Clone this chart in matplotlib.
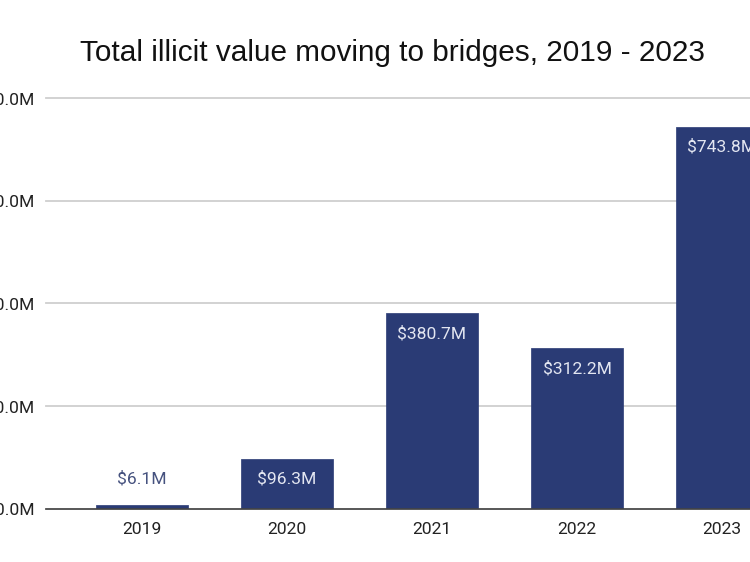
import matplotlib
matplotlib.use('Agg')
import matplotlib.pyplot as plt

years = ['2019', '2020', '2021', '2022', '2023']
values = [6.1, 96.3, 380.7, 312.2, 743.8]
y_ticks = [0, 200, 400, 600, 800]

plt.rcParams['font.family'] = ['Roboto', 'DejaVu Sans']

navy = '#2a3b75'

fig = plt.figure(figsize=(7.5, 5.62), dpi=100)
ax = fig.add_axes([46 / 750, 1 - 508.5 / 562, 704 / 750, 410.5 / 562])

x = list(range(len(years)))
ax.bar(x, values, width=0.64, color=navy, edgecolor=navy, linewidth=0.5,
       joinstyle='round', zorder=3)

for i, v in enumerate(values):
    if v < 50:
        ax.annotate(f'${v}M', (i, v), xytext=(0, 19.5), textcoords='offset points',
                    ha='center', va='center', fontsize=12.6, color='#46527f', zorder=4)
    else:
        ax.annotate(f'${v}M', (i, v), xytext=(0, -14.5), textcoords='offset points',
                    ha='center', va='center', fontsize=12.6, color='#e3e6f1',
                    clip_on=False, zorder=4)

ax.set_xlim(-0.662, 4.193)
ax.set_ylim(0, 800)
ax.set_xticks(x)
ax.set_xticklabels(years)
ax.set_yticks(y_ticks)
ax.set_yticklabels([f'${t}.0M' for t in y_ticks])
ax.tick_params(axis='both', length=0, labelsize=12.6, labelcolor='#222222')
ax.tick_params(axis='x', pad=10)
ax.tick_params(axis='y', pad=8.5)

ax.grid(axis='y', color='#cfcfcf', linewidth=1.3, zorder=0, clip_on=False)
ax.set_axisbelow(True)
for side in ['top', 'right', 'left']:
    ax.spines[side].set_visible(False)
ax.spines['bottom'].set_color('#444444')
ax.spines['bottom'].set_linewidth(1.2)
ax.spines['bottom'].set_zorder(5)

fig.text(392.5 / 750, 1 - 53 / 562, 'Total illicit value moving to bridges, 2019 - 2023',
         ha='center', va='center', fontsize=21.4, color='#111111',
         family=['Liberation Sans', 'DejaVu Sans'])

fig.savefig('out.png', dpi=100)
